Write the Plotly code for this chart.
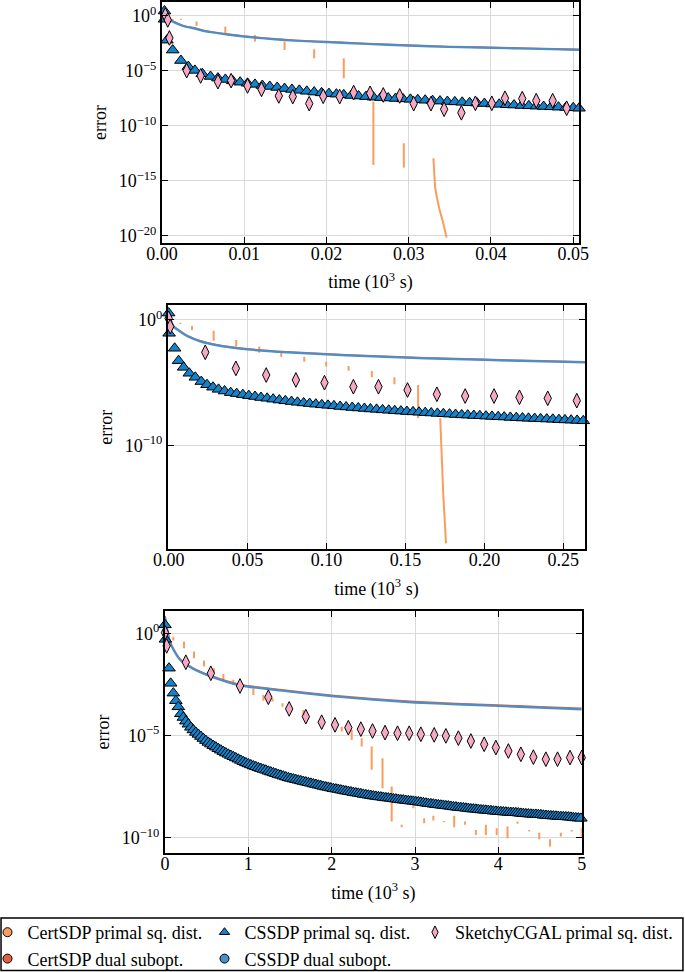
import plotly.graph_objects as go

FONT = "Liberation Serif"
C_CERT_PRIMAL = "#f99d5e"
C_CERT_DUAL = "#e0603f"
C_CSSDP_DUAL = "#4b8fc9"
C_CSSDP_PRIMAL = "#1582cc"
C_SKETCHY = "#f6a9c4"

# ---------------- legend names ----------------
names = ["CertSDP primal sq. dist.", "CSSDP primal sq. dist.", "SketchyCGAL primal sq. dist.",
         "CertSDP dual subopt.", "CSSDP dual subopt."]

# ---------------- panel 1 (log10 of error) ----------------
p1_xticks = [0.0, 0.01, 0.02, 0.03, 0.04, 0.05]
p1_xticktext = ["0.00", "0.01", "0.02", "0.03", "0.04", "0.05"]
p1_yticks = [0, -5, -10, -15, -20]

p1_dual_t = [0.0003, 0.0006, 0.001, 0.002, 0.003, 0.004, 0.005, 0.006, 0.008, 0.010, 0.0125, 0.015,
             0.0175, 0.020, 0.025, 0.030, 0.035, 0.040, 0.045, 0.0507]
p1_cssdp_dual = [0.4, 0.1, -0.36, -0.75, -1.0, -1.15, -1.35, -1.48, -1.7, -1.88, -2.05, -2.2,
                 -2.3, -2.38, -2.55, -2.7, -2.82, -2.9, -2.98, -3.09]
p1_cert_dual = [0.45, 0.15, -0.32, -0.71, -0.96, -1.11, -1.31, -1.44, -1.66, -1.84, -2.01, -2.16,
                -2.26, -2.34, -2.51, -2.66, -2.78, -2.86, -2.94, -3.05]

p1_tri_t = [0.0003, 0.0003, 0.0006, 0.0013, 0.0023, 0.0032, 0.0040, 0.0049, 0.0059,
            0.0068, 0.0077, 0.0086, 0.0095, 0.0104, 0.0113, 0.0122, 0.0131, 0.0140, 0.0149,
            0.0158, 0.0167, 0.0176, 0.0185, 0.0194, 0.0203, 0.0212, 0.0221, 0.0230, 0.0239,
            0.0248, 0.0257, 0.0266, 0.0275, 0.0284, 0.0293, 0.0302, 0.0311, 0.0320, 0.0329,
            0.0338, 0.0347, 0.0356, 0.0365, 0.0374, 0.0383, 0.0392, 0.0401, 0.0410, 0.0419,
            0.0428, 0.0437, 0.0446, 0.0455, 0.0464, 0.0473, 0.0482, 0.0491, 0.0500, 0.0507]
p1_tri_v = [0.45, -0.3, -2.2, -3.1, -4.05, -4.6, -4.95, -5.25, -5.5,
            -5.65, -5.77, -5.9, -6.02, -6.12, -6.22, -6.32, -6.41, -6.5, -6.6,
            -6.68, -6.76, -6.85, -6.92, -6.99, -7.06, -7.11, -7.17, -7.23, -7.28,
            -7.33, -7.38, -7.42, -7.46, -7.5, -7.54, -7.58, -7.62, -7.66, -7.7,
            -7.74, -7.78, -7.81, -7.85, -7.89, -7.92, -7.96, -8.0, -8.03, -8.07,
            -8.1, -8.14, -8.17, -8.2, -8.23, -8.26, -8.29, -8.32, -8.35, -8.39]

p1_dia_t = [0.0004, 0.0007, 0.0009, 0.0030, 0.0047, 0.0068, 0.0084, 0.0104, 0.0121, 0.0142,
            0.0159, 0.0179, 0.0196, 0.0216, 0.0233, 0.0253, 0.0269, 0.0289, 0.0306, 0.0327,
            0.0343, 0.0364, 0.0381, 0.0401, 0.0417, 0.0438, 0.0455, 0.0475, 0.0492]
p1_dia_v = [0.09, -0.36, -2.0, -4.97, -5.45, -5.97, -5.88, -6.36, -6.67, -7.27,
            -7.33, -7.97, -7.3, -7.33, -6.96, -7.03, -7.18, -7.27, -7.97, -7.97,
            -8.48, -8.8, -7.94, -7.94, -7.48, -7.52, -7.7, -7.7, -8.39]

p1_seg_t = [0.0013, 0.0023, 0.0042, 0.0077, 0.0113, 0.0149, 0.0185, 0.0221, 0.0257, 0.0294]
p1_seg_hi = [-0.25, -0.25, -0.5, -0.97, -1.73, -2.33, -3.03, -3.85, -7.79, -11.57]
p1_seg_lo = [-0.35, -0.35, -0.9, -1.64, -2.33, -3.09, -3.85, -5.66, -13.55, -13.79]
p1_tail_t = [0.0330, 0.0332, 0.0334, 0.0337, 0.0342, 0.0346]
p1_tail_v = [-12.94, -15.52, -16.43, -17.48, -18.85, -20.15]

# ---------------- panel 2 ----------------
p2_xticks = [0.0, 0.05, 0.10, 0.15, 0.20, 0.25]
p2_xticktext = ["0.00", "0.05", "0.10", "0.15", "0.20", "0.25"]
p2_yticks = [0, -10]

p2_dual_t = [0.0005, 0.003, 0.007, 0.012, 0.02, 0.03, 0.04, 0.05, 0.075, 0.1, 0.125, 0.15,
             0.175, 0.2, 0.23, 0.2637]
p2_cssdp_dual = [0.3, -0.5, -0.9, -1.3, -1.7, -2.0, -2.2, -2.35, -2.58, -2.74, -2.88, -3.0,
                 -3.1, -3.18, -3.28, -3.37]
p2_cert_dual = [0.34, -0.46, -0.86, -1.26, -1.66, -1.96, -2.16, -2.31, -2.54, -2.7, -2.84, -2.96,
                -3.06, -3.14, -3.24, -3.33]

p2_tri_t = [0.0, 0.0003, 0.0038, 0.0063, 0.0095, 0.0131, 0.0169, 0.0207, 0.0243, 0.0281, 0.0316,
            0.0354, 0.0393, 0.0431, 0.047, 0.0508, 0.0547, 0.0585, 0.0624, 0.0662, 0.0701,
            0.0739, 0.0778, 0.0816, 0.0855, 0.0893, 0.0932, 0.097, 0.1009, 0.1047, 0.1086,
            0.1124, 0.1163, 0.1201, 0.124, 0.1278, 0.1317, 0.1355, 0.1394, 0.1432, 0.1471,
            0.1509, 0.1548, 0.1586, 0.1625, 0.1663, 0.1702, 0.174, 0.1779, 0.1817, 0.1856,
            0.1894, 0.1933, 0.1971, 0.201, 0.2048, 0.2087, 0.2125, 0.2164, 0.2202, 0.2241,
            0.2279, 0.2318, 0.2356, 0.2395, 0.2433, 0.2472, 0.251, 0.2549, 0.2587, 0.2626]
p2_tri_v = [0.55, -1.06, -2.25, -3.24, -3.77, -4.24, -4.56, -4.9, -5.15, -5.35, -5.52,
            -5.65, -5.78, -5.86, -5.94, -6.02, -6.09, -6.17, -6.23, -6.3, -6.37,
            -6.43, -6.49, -6.55, -6.6, -6.65, -6.7, -6.75, -6.79, -6.83, -6.88,
            -6.92, -6.96, -7.0, -7.04, -7.08, -7.11, -7.15, -7.18, -7.22, -7.25,
            -7.28, -7.31, -7.34, -7.37, -7.4, -7.43, -7.46, -7.49, -7.52, -7.55,
            -7.57, -7.6, -7.62, -7.65, -7.67, -7.7, -7.72, -7.75, -7.77, -7.8,
            -7.82, -7.84, -7.86, -7.88, -7.9, -7.93, -7.95, -7.97, -7.99, -8.02]

p2_dia_t = [0.0, 0.001, 0.0232, 0.0426, 0.0618, 0.0806, 0.0987, 0.117, 0.1329, 0.1513, 0.1699,
            0.1878, 0.2061, 0.2222, 0.2401, 0.2585]
p2_dia_v = [0.13, -0.53, -2.57, -3.85, -4.38, -4.77, -4.99, -5.31, -5.31, -5.57, -5.91,
            -6.05, -6.05, -6.15, -6.23, -6.42]

p2_seg_t = [0.0074, 0.0148, 0.0285, 0.0428, 0.0574, 0.0713, 0.0859, 0.0998, 0.114, 0.1287, 0.143, 0.158]
p2_seg_hi = [-0.22, -0.48, -0.85, -1.6, -2.12, -2.52, -2.92, -3.32, -3.66, -4.06, -4.56, -5.17]
p2_seg_lo = [-0.32, -0.8, -1.65, -2.12, -2.6, -2.92, -3.32, -3.71, -4.03, -4.56, -5.12, -7.82]
p2_tail_t = [0.172, 0.173, 0.174, 0.1757]
p2_tail_v = [-7.82, -10.87, -14.06, -17.77]

# ---------------- panel 3 ----------------
p3_xticks = [0, 1, 2, 3, 4, 5]
p3_xticktext = ["0", "1", "2", "3", "4", "5"]
p3_yticks = [0, -5, -10]

p3_dual_t = [0.0, 0.02, 0.06, 0.1, 0.18, 0.34, 0.54, 0.9, 1.38, 2.0, 2.5, 3.0, 3.5, 4.0, 4.5, 5.0]
p3_cssdp_dual = [0.8, 0.3, -0.45, -0.8, -1.3, -1.75, -2.1, -2.55, -2.8, -3.08, -3.25, -3.39,
                 -3.48, -3.56, -3.64, -3.72]
p3_cert_dual = [0.84, 0.34, -0.41, -0.76, -1.26, -1.71, -2.06, -2.51, -2.76, -3.04, -3.21, -3.35,
                -3.44, -3.52, -3.6, -3.68]

p3_tri_t = [0.0, 0.005, 0.048, 0.068, 0.1, 0.13, 0.16,
            0.19, 0.22, 0.25, 0.28, 0.31, 0.34, 0.37, 0.40, 0.43, 0.46, 0.49, 0.52, 0.55, 0.58,
            0.61, 0.64, 0.67, 0.70, 0.73, 0.76, 0.79, 0.82, 0.85, 0.88, 0.91, 0.94, 0.97, 1.00,
            1.03, 1.06, 1.09, 1.12, 1.15, 1.18, 1.21, 1.24, 1.27, 1.30, 1.33, 1.36, 1.39, 1.42,
            1.45, 1.48, 1.51, 1.54, 1.57, 1.60, 1.63, 1.66, 1.69, 1.72, 1.75, 1.78, 1.81, 1.84,
            1.87, 1.90, 1.93, 1.96, 1.99, 2.02, 2.05, 2.08, 2.11, 2.14, 2.17, 2.20, 2.23, 2.26,
            2.29, 2.32, 2.35, 2.38, 2.41, 2.44, 2.47, 2.50, 2.53, 2.56, 2.59, 2.62, 2.65, 2.68,
            2.71, 2.74, 2.77, 2.80, 2.83, 2.86, 2.89, 2.92, 2.95, 2.98, 3.01, 3.04, 3.07, 3.10,
            3.13, 3.16, 3.19, 3.22, 3.25, 3.28, 3.31, 3.34, 3.37, 3.40, 3.43, 3.46, 3.49, 3.52,
            3.55, 3.58, 3.61, 3.64, 3.67, 3.70, 3.73, 3.76, 3.79, 3.82, 3.85, 3.88, 3.91, 3.94,
            3.97, 4.00, 4.03, 4.06, 4.09, 4.12, 4.15, 4.18, 4.21, 4.24, 4.27, 4.30, 4.33, 4.36,
            4.39, 4.42, 4.45, 4.48, 4.51, 4.54, 4.57, 4.60, 4.63, 4.66, 4.69, 4.72, 4.75, 4.78,
            4.81, 4.84, 4.87, 4.90, 4.93, 4.96, 4.99]
p3_tri_v = [0.41, -0.3, -1.71, -2.45, -2.93, -3.3, -3.6,
            -3.94, -4.12, -4.30, -4.45, -4.60, -4.73, -4.85, -4.95, -5.05, -5.15, -5.25, -5.34, -5.42, -5.50,
            -5.57, -5.65, -5.72, -5.79, -5.86, -5.92, -5.98, -6.04, -6.10, -6.16, -6.22, -6.28, -6.34, -6.39,
            -6.44, -6.49, -6.53, -6.58, -6.62, -6.66, -6.70, -6.75, -6.79, -6.83, -6.87, -6.91, -6.95, -6.99,
            -7.03, -7.07, -7.10, -7.13, -7.16, -7.19, -7.22, -7.25, -7.28, -7.31, -7.34, -7.37, -7.40, -7.43,
            -7.46, -7.49, -7.52, -7.54, -7.57, -7.60, -7.62, -7.64, -7.67, -7.69, -7.72, -7.74, -7.76, -7.79,
            -7.81, -7.83, -7.85, -7.88, -7.90, -7.92, -7.94, -7.96, -7.98, -8.00, -8.01, -8.03, -8.05, -8.06,
            -8.08, -8.10, -8.11, -8.13, -8.15, -8.16, -8.18, -8.19, -8.21, -8.22, -8.24, -8.25, -8.27, -8.29,
            -8.31, -8.33, -8.34, -8.36, -8.38, -8.39, -8.41, -8.42, -8.44, -8.45, -8.47, -8.49, -8.50, -8.52,
            -8.53, -8.54, -8.56, -8.57, -8.59, -8.60, -8.61, -8.62, -8.64, -8.65, -8.66, -8.67, -8.68, -8.70,
            -8.71, -8.72, -8.73, -8.74, -8.75, -8.76, -8.77, -8.77, -8.78, -8.79, -8.81, -8.82, -8.83, -8.84,
            -8.85, -8.86, -8.86, -8.87, -8.88, -8.90, -8.91, -8.92, -8.93, -8.94, -8.95, -8.96, -8.97, -8.97,
            -8.98, -8.99, -9.00, -9.02, -9.03, -9.04, -9.05]

p3_dia_t = [0.0, 0.02, 0.25, 0.55, 0.9, 1.24, 1.49, 1.69, 1.88, 2.04, 2.2, 2.35, 2.49, 2.64, 2.79,
            2.93, 3.07, 3.23, 3.37, 3.52, 3.67, 3.83, 3.97, 4.12, 4.27, 4.42, 4.57, 4.71, 4.86, 5.0]
p3_dia_v = [0.03, -0.62, -1.42, -1.96, -2.58, -3.13, -3.7, -4.08, -4.35, -4.48, -4.62, -4.69, -4.78,
            -4.86, -4.89, -4.89, -4.94, -4.97, -5.02, -5.13, -5.27, -5.43, -5.59, -5.76, -5.92, -6.06,
            -6.16, -6.16, -6.08, -6.08]

p3_seg_t = [0.1, 0.228, 0.348, 0.468, 0.588, 0.7, 0.82, 1.06, 1.18, 1.29, 1.41, 1.66, 1.88, 2.12,
            2.24, 2.36, 2.48, 2.61, 2.72, 2.84, 2.98, 3.11, 3.22, 3.35, 3.47, 3.6, 3.73, 3.85, 3.98,
            4.11, 4.23, 4.37, 4.49, 4.62, 4.75, 4.88, 5.0]
p3_seg_hi = [-0.17, -0.41, -0.9, -1.34, -1.71, -1.99, -2.28, -2.69, -3.02, -3.18, -3.42, -3.75,
             -4.08, -4.57, -4.73, -5.13, -5.54, -6.11, -7.5, -9.37, -8.4, -9.05, -8.93, -9.18,
             -8.93, -9.21, -9.62, -9.37, -9.53, -9.45, -9.21, -9.62, -9.75, -10.07, -9.75, -9.62, -9.53]
p3_seg_lo = [-0.36, -0.73, -1.22, -1.63, -1.96, -2.28, -2.53, -3.02, -3.3, -3.34, -3.59, -4.0,
             -4.32, -4.81, -5.22, -5.54, -6.68, -7.58, -9.21, -9.49, -8.56, -9.29, -9.16, -9.24,
             -9.49, -9.37, -9.86, -9.86, -9.86, -10.02, -9.32, -9.7, -10.07, -10.43, -9.94, -9.7, -9.97]


def pw(vals):
    return [None if v is None else 10 ** v for v in vals]


def segments(ts, hi, lo, tail_t=None, tail_v=None):
    xs, ys = [], []
    for t, a, b in zip(ts, hi, lo):
        xs += [t, t, None]
        ys += [a, b, None]
    if tail_t:
        xs += list(tail_t)
        ys += list(tail_v)
    return xs, pw(ys)


def ytext(e):
    return "10<sup>" + (str(e) if e >= 0 else "\u2212" + str(-e)) + "</sup>"


fig = go.Figure()

panels = [
    dict(seg=(p1_seg_t, p1_seg_hi, p1_seg_lo, p1_tail_t, p1_tail_v), dual_t=p1_dual_t,
         cert_dual=p1_cert_dual, cssdp_dual=p1_cssdp_dual, tri=(p1_tri_t, p1_tri_v), dia=(p1_dia_t, p1_dia_v)),
    dict(seg=(p2_seg_t, p2_seg_hi, p2_seg_lo, p2_tail_t, p2_tail_v), dual_t=p2_dual_t,
         cert_dual=p2_cert_dual, cssdp_dual=p2_cssdp_dual, tri=(p2_tri_t, p2_tri_v), dia=(p2_dia_t, p2_dia_v)),
    dict(seg=(p3_seg_t, p3_seg_hi, p3_seg_lo, None, None), dual_t=p3_dual_t,
         cert_dual=p3_cert_dual, cssdp_dual=p3_cssdp_dual, tri=(p3_tri_t, p3_tri_v), dia=(p3_dia_t, p3_dia_v)),
]

for i, p in enumerate(panels):
    xa = "x" if i == 0 else "x%d" % (i + 1)
    ya = "y" if i == 0 else "y%d" % (i + 1)
    sx, sy = segments(*p["seg"])
    fig.add_trace(go.Scatter(x=sx, y=sy, mode="lines", line=dict(color=C_CERT_PRIMAL, width=2),
                             connectgaps=False, showlegend=False, xaxis=xa, yaxis=ya))
    fig.add_trace(go.Scatter(x=p["dual_t"], y=pw(p["cert_dual"]), mode="lines",
                             line=dict(color=C_CERT_DUAL, width=1.8, shape="spline", smoothing=0.6),
                             showlegend=False, xaxis=xa, yaxis=ya))
    fig.add_trace(go.Scatter(x=p["dual_t"], y=pw(p["cssdp_dual"]), mode="lines",
                             line=dict(color=C_CSSDP_DUAL, width=2.2, shape="spline", smoothing=0.6),
                             showlegend=False, xaxis=xa, yaxis=ya))
    fig.add_trace(go.Scatter(x=p["tri"][0], y=pw(p["tri"][1]), mode="markers",
                             marker=dict(symbol="triangle-up", size=11, color=C_CSSDP_PRIMAL,
                                         line=dict(color="black", width=1)),
                             cliponaxis=False, showlegend=False, xaxis=xa, yaxis=ya))
    fig.add_trace(go.Scatter(x=p["dia"][0], y=pw(p["dia"][1]), mode="markers",
                             marker=dict(symbol="diamond-tall", size=10.5, color=C_SKETCHY,
                                         line=dict(color="black", width=1)),
                             cliponaxis=False, showlegend=False, xaxis=xa, yaxis=ya))

W, H = 685, 972

# legend-only entries: three vertical legends acting as the three columns
leg_specs = [
    (names[0], "circle", C_CERT_PRIMAL, "legend"),
    (names[3], "circle", C_CERT_DUAL, "legend"),
    (names[1], "triangle-up", C_CSSDP_PRIMAL, "legend2"),
    (names[4], "circle", C_CSSDP_DUAL, "legend2"),
    (names[2], "diamond-tall", C_SKETCHY, "legend3"),
]
for nm, sym, col, lg in leg_specs:
    fig.add_trace(go.Scatter(x=[None], y=[None], mode="markers", name=nm, legend=lg,
                             marker=dict(symbol=sym, size=9, color=col, line=dict(color="black", width=1))))


def dom_x(a, b):
    return [a / W, b / W]


def dom_y(top, bot):
    return [1 - bot / H, 1 - top / H]


axis_common = dict(showline=True, linecolor="black", linewidth=2, mirror="ticks", ticks="inside",
                   ticklen=6, tickwidth=1.3, tickcolor="black", showgrid=True, gridcolor="#d9d9d9",
                   gridwidth=1, zeroline=False, automargin=False,
                   tickfont=dict(family=FONT, size=18, color="black"))

xdefs = [
    (dom_x(162, 579), [0, 0.0507], p1_xticks, p1_xticktext),
    (dom_x(168, 585), [-0.0004, 0.2637], p2_xticks, p2_xticktext),
    (dom_x(165, 581.7), [0, 5.0], p3_xticks, p3_xticktext),
]
ydefs = [
    (dom_y(2, 243), [-20.64, 1.27], p1_yticks),
    (dom_y(305, 549.3), [-18.24, 1.19], p2_yticks),
    (dom_y(610.7, 853.3), [-10.76, 1.1], p3_yticks),
]

layout = dict(width=W, height=H, margin=dict(l=0, r=0, t=0, b=0, autoexpand=False),
              plot_bgcolor="white", paper_bgcolor="white", hovermode=False,
              font=dict(family=FONT, size=18, color="black"))
for i in range(3):
    xk = "xaxis" if i == 0 else "xaxis%d" % (i + 1)
    yk = "yaxis" if i == 0 else "yaxis%d" % (i + 1)
    yanchor = "y" if i == 0 else "y%d" % (i + 1)
    xanchor = "x" if i == 0 else "x%d" % (i + 1)
    xd, xr, xt, xtt = xdefs[i]
    yd, yr, yt = ydefs[i]
    layout[xk] = dict(axis_common, domain=xd, range=xr, anchor=yanchor, tickvals=xt, ticktext=xtt,
                      ticklabelstandoff=-7,
                      title=dict(text="time (10<sup>3</sup> s)", font=dict(family=FONT, size=18),
                                 standoff=13))
    layout[yk] = dict(axis_common, domain=yd, range=yr, anchor=xanchor, type="log",
                      tickvals=[10 ** e for e in yt], ticktext=[ytext(e) for e in yt],
                      title=dict(text="error", font=dict(family=FONT, size=18), standoff=7))

leg_common = dict(orientation="v", xanchor="left", yanchor="top", y=1 - 914 / H,
                  bgcolor="rgba(0,0,0,0)", borderwidth=0, itemwidth=30, tracegroupgap=0,
                  font=dict(family=FONT, size=18, color="black"))
layout["legend"] = dict(leg_common, x=-12.5 / W)
layout["legend2"] = dict(leg_common, x=204.5 / W)
layout["legend3"] = dict(leg_common, x=415 / W)
layout["shapes"] = [dict(type="rect", xref="paper", yref="paper", x0=0.0015, x1=0.997,
                         y0=1.5 / H, y1=(H - 918) / H, line=dict(color="black", width=1.5))]

fig.update_layout(**layout)
fig.write_html("out.html", config={"displayModeBar": False},
               post_script="document.body.style.margin='0px';document.body.style.padding='0px';")
